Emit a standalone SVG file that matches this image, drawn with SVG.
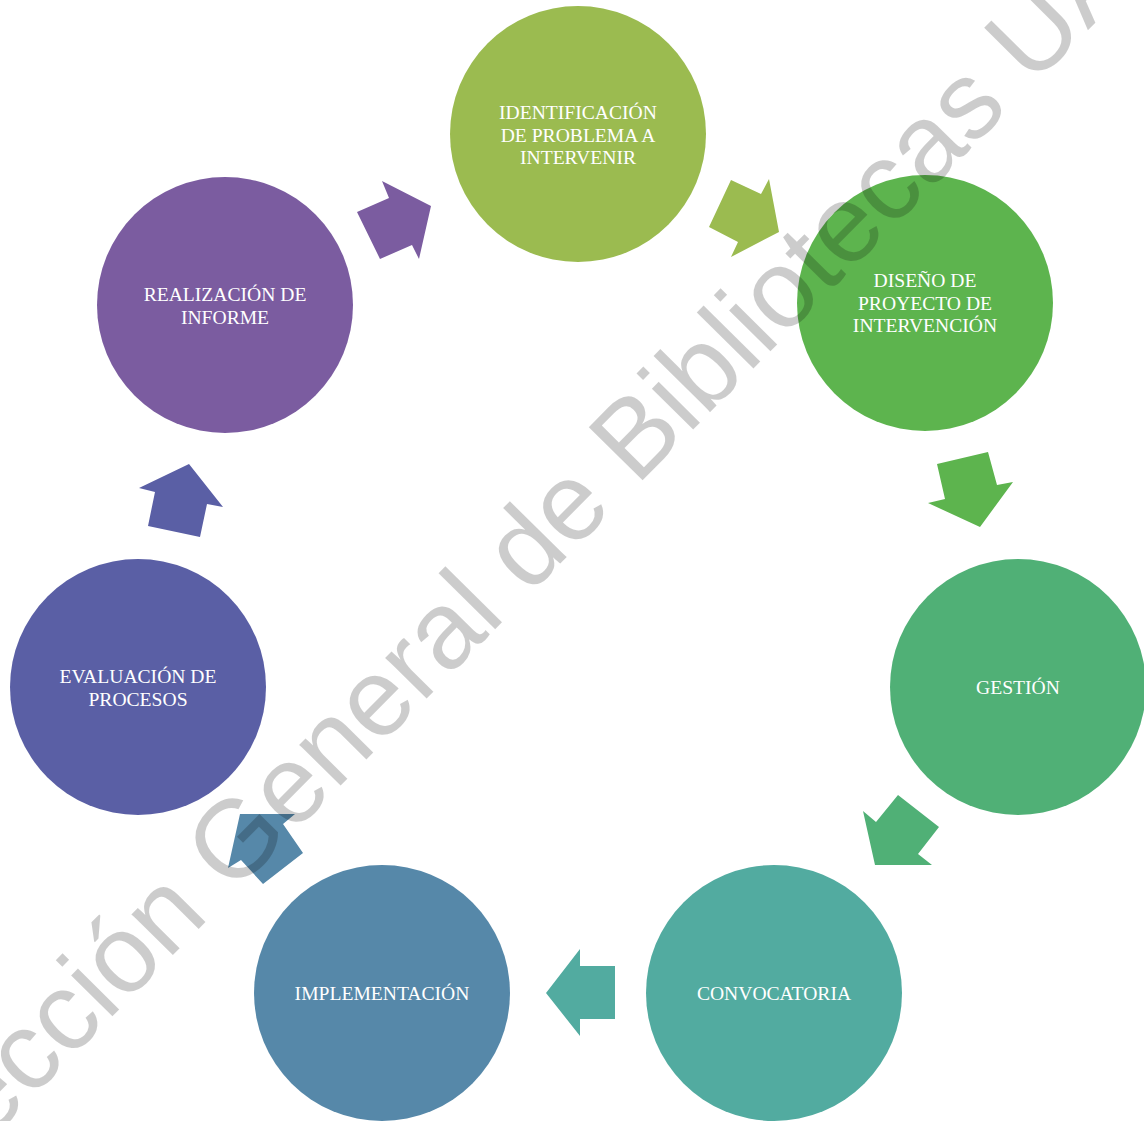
<svg xmlns="http://www.w3.org/2000/svg" width="1144" height="1121" viewBox="0 0 1144 1121">
<style>
.lbl{font-family:"Liberation Serif","Times New Roman",serif;font-size:19.6px;fill:#ffffff;text-anchor:middle}
.wm{font-family:"Liberation Sans",Arial,sans-serif;font-size:110px;fill:#000000;fill-opacity:0.2}
</style>
<rect width="1144" height="1121" fill="#ffffff"/>
<g id="connectors">
<polygon id="a1" fill="#9bbb50" points="731,180 761,194 769,179 779,232 731,257 738,242 709,227"/>
<polygon id="a2" fill="#5db44e" points="937,464 988,452 997,485 1013,482 980,527 928,503 945,499"/>
<polygon id="a3" fill="#50b076" points="863,811 876,822 898,795 939,827 918,854 932,865 875,865"/>
<polygon id="a4" fill="#52aba0" points="615,966 580,966 580,949 546,993 580,1036 580,1019 615,1019"/>
<polygon id="a5" fill="#5688a9" points="240,814 295,814 283,824 303,853 263,884 241,860 228,868"/>
<polygon id="a6" fill="#5a5fa5" points="189,464 223,507 207,504 200,537 148,526 155,492 139,488"/>
<polygon id="a7" fill="#7b5ca0" points="357,212 389,198 382,181 431,206 419,259 412,245 380,259"/>
</g>
<g id="n1"><circle cx="578" cy="134" r="128" fill="#9bbb50"/>
<text class="lbl" x="578" y="119">IDENTIFICACIÓN</text><text class="lbl" x="578" y="141.5">DE PROBLEMA A</text><text class="lbl" x="578" y="164">INTERVENIR</text></g>
<g id="n2"><circle cx="925" cy="303" r="128" fill="#5db44e"/>
<text class="lbl" x="925" y="287">DISEÑO DE</text><text class="lbl" x="925" y="309.5">PROYECTO DE</text><text class="lbl" x="925" y="332">INTERVENCIÓN</text></g>
<g id="n3"><circle cx="1018" cy="687" r="128" fill="#50b076"/>
<text class="lbl" x="1018" y="694">GESTIÓN</text></g>
<g id="n4"><circle cx="774" cy="993" r="128" fill="#52aba0"/>
<text class="lbl" x="774" y="1000">CONVOCATORIA</text></g>
<g id="n5"><circle cx="382" cy="993" r="128" fill="#5688a9"/>
<text class="lbl" x="382" y="1000">IMPLEMENTACIÓN</text></g>
<g id="n6"><circle cx="138" cy="687" r="128" fill="#5a5fa5"/>
<text class="lbl" x="138" y="683">EVALUACIÓN DE</text><text class="lbl" x="138" y="705.5">PROCESOS</text></g>
<g id="n7"><circle cx="225" cy="305" r="128" fill="#7b5ca0"/>
<text class="lbl" x="225" y="301">REALIZACIÓN DE</text><text class="lbl" x="225" y="323.5">INFORME</text></g>
<text class="wm" transform="translate(-112,1243) rotate(-45.3)">Dirección General de Bibliotecas UAQ</text>
</svg>
